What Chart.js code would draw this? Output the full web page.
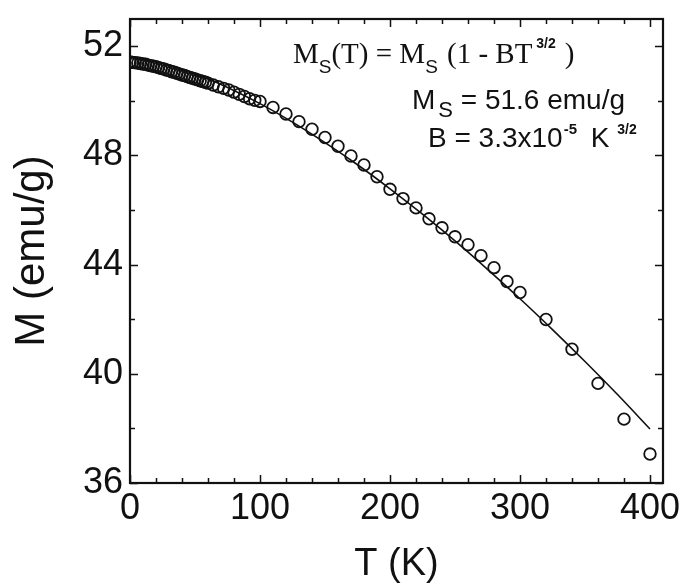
<!DOCTYPE html>
<html>
<head>
<meta charset="utf-8">
<script src="https://cdn.jsdelivr.net/npm/chart.js@4.4.0/dist/chart.umd.min.js"></script>
<style>
  html, body { margin: 0; padding: 0; background: #fff; }
  canvas { display: block; }
</style>
</head>
<body>
<canvas id="myChart" width="687" height="588"></canvas>
<script>
// measured points (T in K, M in emu/g) - dense band at low T
var temperature = [0, 2, 4, 6, 8, 10, 12, 14, 16, 18, 20, 22, 24, 26, 28, 30, 32, 34, 36, 38, 40, 42, 44, 46, 48, 50,
  52, 54, 56, 58, 60, 64, 68, 72, 76, 80, 84, 88, 92, 96,
  100, 110, 120, 130, 140, 150, 160, 170, 180, 190, 200, 210, 220, 230, 240, 250, 260, 270, 280, 290, 300,
  320, 340, 360, 380, 400];
var magnetization = [51.43, 51.41, 51.40, 51.39, 51.37, 51.35, 51.34, 51.31, 51.29, 51.27, 51.25, 51.22, 51.19, 51.17,
  51.13, 51.11, 51.07, 51.05, 51.01, 50.98, 50.95, 50.93, 50.89, 50.86, 50.83, 50.80,
  50.77, 50.74, 50.71, 50.68, 50.65, 50.58, 50.52, 50.46, 50.40, 50.32, 50.24, 50.16, 50.08, 50.02,
  49.98, 49.76, 49.52, 49.24, 48.96, 48.66, 48.34, 47.98, 47.65, 47.22, 46.76, 46.42, 46.08, 45.68, 45.35, 45.02,
  44.73, 44.33, 43.89, 43.38, 42.98,
  41.99, 40.90, 39.65, 38.34, 37.06];

// Bloch law fit line
var fitT = [0, 25, 50, 75, 100, 125, 150, 175, 200, 225, 250, 275, 300, 325, 350, 375, 400];
var fitM = [51.60, 51.39, 51.00, 50.49, 49.90, 49.22, 48.47, 47.66, 46.78, 45.85, 44.87, 43.83, 42.75, 41.62, 40.45, 39.24, 37.98];

var xTicks = [0, 100, 200, 300, 400];
var yTicks = [36, 40, 44, 48, 52];

var ink = '#111';
var sans = '"Liberation Sans", Arial, Helvetica, sans-serif';
var serif = '"Liberation Serif", "Times New Roman", serif';

var points = temperature.map(function (t, i) { return {x: t, y: magnetization[i]}; });
var fit = fitT.map(function (t, i) { return {x: t, y: fitM[i]}; });

// frame + inward ticks on every side, plus the formula box text
var frameTicks = {
  id: 'frameTicks',
  afterDraw: function (chart) {
    var c = chart.ctx, a = chart.chartArea;
    var xs = chart.scales.x, ys = chart.scales.y;
    c.save();
    c.strokeStyle = ink;
    c.lineWidth = 1.5;
    var v, px, len;
    for (v = 0; v <= 410; v += 20) {
      px = Math.round(xs.getPixelForValue(v)) + 0.5;
      len = v % 100 === 0 ? 8 : 5;
      c.beginPath();
      c.moveTo(px, a.bottom); c.lineTo(px, a.bottom - len);
      c.moveTo(px, a.top); c.lineTo(px, a.top + len);
      c.stroke();
    }
    for (v = 36; v <= 53; v += 2) {
      px = Math.round(ys.getPixelForValue(v)) + 0.5;
      len = v % 4 === 0 ? 8 : 5;
      c.beginPath();
      c.moveTo(a.left, px); c.lineTo(a.left + len, px);
      c.moveTo(a.right, px); c.lineTo(a.right - len, px);
      c.stroke();
    }
    c.lineWidth = 2.2;
    c.strokeRect(a.left, a.top, a.right - a.left, a.bottom - a.top);

    c.fillStyle = ink;
    c.textBaseline = 'alphabetic';
    function put(txt, font, x, y) {
      c.font = font;
      c.fillText(txt, x, y);
      return x + c.measureText(txt).width;
    }
    var x = 293, y = 63;
    x = put('M', '29px ' + serif, x, y);
    x = put('S', '19px ' + sans, x, y + 10);
    x = put('(T) = M', '29px ' + serif, x, y);
    x = put('S', '19px ' + sans, x, y + 10);
    x = put(' (1 - BT', '29px ' + serif, x + 2, y);
    x = put(' 3/2', 'bold 14px ' + sans, x, y - 15);
    put(')', '29px ' + serif, x + 9, y);

    x = 412; y = 109;
    x = put('M', '28px ' + sans, x, y);
    x = put('S', '22px ' + sans, x + 3, y + 8);
    put(' = 51.6 emu/g', '28px ' + sans, x, y);

    x = 428; y = 147;
    x = put('B = 3.3x10', '28px ' + sans, x, y);
    x = put('-5', 'bold 15px ' + sans, x + 1, y - 13);
    x = put(' K', '28px ' + sans, x + 6, y);
    put(' 3/2', 'bold 14px ' + sans, x + 4, y - 13);
    c.restore();
  }
};

var ctx = document.getElementById('myChart').getContext('2d');
var magChart = new Chart(ctx, {
  type: 'scatter',
  data: {
    datasets: [
      {
        label: 'fit',
        data: fit,
        showLine: true,
        borderColor: ink,
        borderWidth: 1.6,
        pointRadius: 0,
        cubicInterpolationMode: 'monotone',
        order: 2
      },
      {
        label: 'M(T)',
        data: points,
        showLine: false,
        pointStyle: 'circle',
        pointRadius: 5.8,
        borderWidth: 1.8,
        borderColor: ink,
        backgroundColor: 'rgba(0,0,0,0)',
        order: 1
      }
    ]
  },
  options: {
    responsive: false,
    animation: false,
    layout: { padding: { left: 0, right: 24, top: 19, bottom: 0 } },
    plugins: { legend: { display: false }, tooltip: { enabled: false } },
    scales: {
      x: {
        type: 'linear',
        min: 0,
        max: 410,
        afterBuildTicks: function (s) { s.ticks = xTicks.map(function (v) { return {value: v}; }); },
        afterFit: function (s) { s.height = 105; s.paddingLeft = 0; s.paddingRight = 0; },
        grid: { display: false, drawTicks: false },
        border: { display: false },
        ticks: { color: ink, padding: 8, maxRotation: 0, font: { family: sans, size: 36, lineHeight: 1 } },
        title: { display: true, text: 'T (K)', color: ink, padding: { top: 0, bottom: 4 }, font: { family: sans, size: 38, lineHeight: 1 } }
      },
      y: {
        type: 'linear',
        min: 36,
        max: 53,
        afterBuildTicks: function (s) { s.ticks = yTicks.map(function (v) { return {value: v}; }); },
        afterFit: function (s) { s.width = 130; s.paddingTop = 0; s.paddingBottom = 0; },
        grid: { display: false, drawTicks: false },
        border: { display: false },
        ticks: { color: ink, padding: 7, font: { family: sans, size: 36, lineHeight: 1 } },
        title: { display: true, text: 'M (emu/g)', color: ink, padding: { top: 11, bottom: 0 }, font: { family: sans, size: 42, lineHeight: 1 } }
      }
    }
  },
  plugins: [frameTicks]
});
</script>
</body>
</html>
